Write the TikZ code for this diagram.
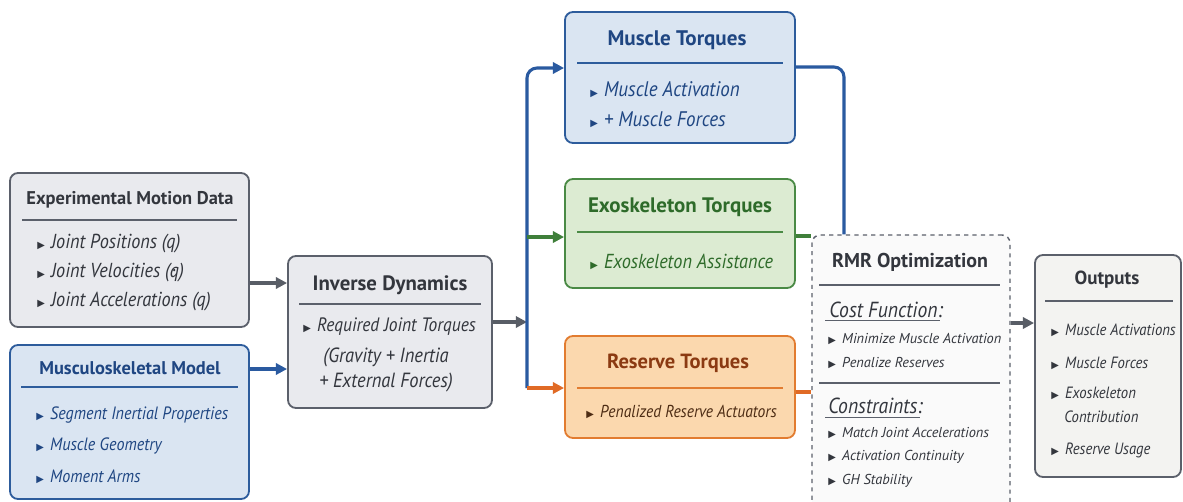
\documentclass[tikz,border=0pt]{standalone}
\usepackage{fontspec}
\setmainfont{PT Sans}
\newfontfamily\cnd[FakeStretch=0.9]{PT Sans}
\newfontfamily\symfont{DejaVu Sans}
\usetikzlibrary{arrows.meta,fit}
\definecolor{gryline}{HTML}{5B606B}
\definecolor{gryfill}{HTML}{E9EAEE}
\definecolor{grytext}{HTML}{33363D}
\definecolor{bluline}{HTML}{2D5C9C}
\definecolor{blufill}{HTML}{DAE5F2}
\definecolor{blutext}{HTML}{1F4682}
\definecolor{grnline}{HTML}{4A8A45}
\definecolor{grnfill}{HTML}{DCEBD2}
\definecolor{grntext}{HTML}{2E6B2A}
\definecolor{orgline}{HTML}{E27C30}
\definecolor{orgfill}{HTML}{FBD8AE}
\definecolor{orgtext}{HTML}{8B3A12}
\definecolor{orgitem}{HTML}{4D2C14}
\definecolor{outfill}{HTML}{F3F3F1}
\definecolor{rmrfill}{HTML}{FAFAFA}
\definecolor{arrgry}{HTML}{585D66}
\definecolor{arrblu}{HTML}{2A5AA0}
\definecolor{arrgrn}{HTML}{3F7F3A}
\definecolor{arrorg}{HTML}{E06A25}
\newcommand\bul{{\symfont\fontsize{7}{7}\selectfont\char"25B6}\hspace{4.5pt}}
\newcommand\qdot{\ooalign{q\cr\hidewidth\raisebox{0.62ex}{.}\hidewidth\cr}}
\begin{document}
\begin{tikzpicture}[x=0.025cm,y=-0.025cm]
\tikzset{every node/.append style={inner sep=0pt},
  box/.style={draw, rounded corners=0.2cm, line width=1.3pt},
  hd/.style={font=\fontsize{#1}{16}\selectfont\bfseries}, hd/.default=13.1,
  itm/.style={anchor=west, font=\cnd\fontsize{#1}{16}\selectfont\itshape}, itm/.default=13.2,
  sml/.style={anchor=west, font=\fontsize{#1}{12}\selectfont\itshape}, sml/.default=10.2,
  con/.style={line width=2.2pt, -{Triangle[length=8pt,width=8pt]}},
  lin/.style={line width=2.2pt}}
\clip (0,0) rectangle (1183,501);
\fill [white] (0,0) rectangle (1183,501);
\node [box, draw=gryline, fill=gryfill, fit={(10,173) (249,327)}] (exp) {};
\node [hd, text=grytext] at (130,200) {Experimental Motion Data};
\draw [gryline, line width=0.8pt] (22,220) -- (237,220);
\node [itm=14.4, text=grytext] at (37,244) {\bul Joint Positions (q)};
\node [itm=14.4, text=grytext] at (37,273) {\bul Joint Velocities (\qdot)};
\node [itm=14.4, text=grytext] at (37,302) {\bul Joint Accelerations (q)};
\node [box, draw=bluline, fill=blufill, fit={(10,345) (249,499)}] (msk) {};
\node [hd, text=blutext] at (130,368) {Musculoskeletal Model};
\draw [bluline, line width=0.8pt] (21,387) -- (238,387);
\node [itm=12.7, text=blutext] at (36,415) {\bul Segment Inertial Properties};
\node [itm=12.7, text=blutext] at (36,446) {\bul Muscle Geometry};
\node [itm=12.7, text=blutext] at (36,477) {\bul Moment Arms};
\node [box, draw=gryline, fill=gryfill, fit={(288,256) (492,408)}] (id) {};
\node [hd=14.8, text=grytext] at (390,285) {Inverse Dynamics};
\draw [gryline, line width=0.8pt] (299,304) -- (481,304);
\node [itm=13.8, text=grytext] at (303,327) {\bul Required Joint Torques};
\node [itm=14.6, text=grytext, anchor=center] at (386,357) {(Gravity + Inertia};
\node [itm=14.6, text=grytext, anchor=center] at (386,382) {+ External Forces)};
\node [box, draw=bluline, fill=blufill, fit={(565,12) (795,143)}] (mus) {};
\node [hd=15, text=blutext] at (677,40) {Muscle Torques};
\draw [bluline, line width=0.8pt] (577,63) -- (783,63);
\node [itm=15, text=blutext] at (590,90) {\bul Muscle Activation};
\node [itm=15, text=blutext] at (590,120) {\bul + Muscle Forces};
\node [box, draw=grnline, fill=grnfill, fit={(565,179) (795,288)}] (exo) {};
\node [hd=14.9, text=grntext] at (680,207) {Exoskeleton Torques};
\draw [grnline, line width=0.8pt] (577,232) -- (783,232);
\node [itm=14.4, text=grntext] at (590,262) {\bul Exoskeleton Assistance};
\node [box, draw=orgline, fill=orgfill, fit={(565,336) (795,438)}] (res) {};
\node [hd=14.6, text=orgtext] at (678,363) {Reserve Torques};
\draw [orgline, line width=0.8pt] (577,388) -- (783,388);
\node [itm=12.3, text=orgitem] at (586,412) {\bul Penalized Reserve Actuators};
\node [box, dashed, draw=gryline, fill=rmrfill, line width=1pt, fit={(812,235) (1010,530)}] (rmr) {};
\node [hd=14.2, text=grytext] at (910,262) {RMR Optimization};
\draw [gryline, line width=0.8pt] (819,285) -- (1000,285);
\node [itm=15.5, text=grytext] at (829,310) {Cost Function:};
\draw [gryline, line width=0.6pt] (825,320) -- (940,320);
\node [sml, text=grytext] at (828,339) {\bul Minimize Muscle Activation};
\node [sml, text=grytext] at (828,363) {\bul Penalize Reserves};
\draw [gryline, line width=0.8pt] (819,383) -- (1000,383);
\node [itm=15.5, text=grytext] at (828,406) {Constraints:};
\draw [gryline, line width=0.6pt] (825,417) -- (920,417);
\node [sml, text=grytext] at (828,433) {\bul Match Joint Accelerations};
\node [sml, text=grytext] at (828,457) {\bul Activation Continuity};
\node [sml, text=grytext] at (828,481) {\bul GH Stability};
\node [box, draw=gryline, fill=outfill, fit={(1035,255) (1181,477)}] (out) {};
\node [hd=13.5, text=grytext] at (1107,280) {Outputs};
\draw [gryline, line width=0.8pt] (1045,301) -- (1173,301);
\node [itm=11.6, text=grytext] at (1051,330) {\bul Muscle Activations};
\node [itm=11.6, text=grytext] at (1051,363) {\bul Muscle Forces};
\node [itm=11.6, text=grytext] at (1051,393) {\bul Exoskeleton};
\node [itm=11.6, text=grytext] at (1064,417) {Contribution};
\node [itm=11.6, text=grytext] at (1051,450) {\bul Reserve Usage};
\coordinate (jx) at (527,0);
\coordinate (kx) at (844,0);
\draw [con, arrgry] (exp.east |- 0,283) -- (id.west |- 0,283);
\draw [con, arrblu] (msk.east |- 0,369) -- (id.west |- 0,369);
\draw [con, arrgry] (id.east |- 0,322) -- (jx |- 0,322);
\draw [con, arrblu, rounded corners=0.25cm] (jx |- 0,388) -- (jx |- 0,68) -- (mus.west |- 0,68);
\draw [con, arrgrn] (jx |- 0,237) -- (exo.west |- 0,237);
\draw [con, arrorg] (jx |- 0,388) -- (res.west |- 0,388);
\draw [lin, arrblu, rounded corners=0.25cm] (mus.east |- 0,67) -- (kx |- 0,67) -- (rmr.north -| kx);
\draw [lin, arrgrn] (exo.east |- 0,236) -- (rmr.west |- 0,236);
\draw [lin, arrorg] (res.east |- 0,392) -- (rmr.west |- 0,392);
\draw [con, arrgry] (rmr.east |- 0,323) -- (out.west |- 0,323);
\end{tikzpicture}
\end{document}
